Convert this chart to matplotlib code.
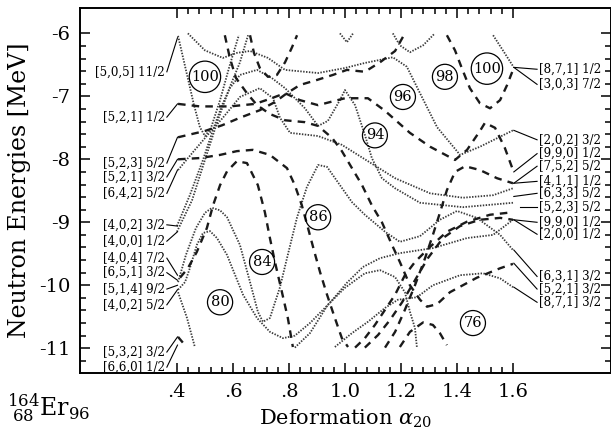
import matplotlib
matplotlib.use('agg')
import matplotlib.pyplot as plt
from matplotlib.ticker import FixedLocator, FixedFormatter

plt.rcParams['font.family'] = 'DejaVu Serif'
plt.rcParams['mathtext.fontset'] = 'dejavuserif'
plt.rcParams['axes.unicode_minus'] = False

# ---- single-particle levels: deformation alpha20 vs energy [MeV] ----
# dotted levels
lv_202_a = [.439, .500, .564, .614, .661, .725, .786, .904, 1.000, 1.071, 1.171, 1.221, 1.268, 1.329, 1.411, 1.482, 1.600]
lv_202_e = [-6.00, -6.27, -6.39, -6.31, -6.28, -6.39, -6.58, -6.63, -6.55, -6.47, -6.38, -6.53, -6.95, -7.49, -7.93, -7.80, -7.54]

lv_505_a = [.404, .432, .461, .482, .500, .521, .554, .589, .621]
lv_505_e = [-6.04, -6.58, -7.14, -7.49, -7.63, -7.51, -7.06, -6.50, -6.03]

lv_400_a = [.400, .454, .500, .546, .589, .625, .654]
lv_400_e = [-9.15, -8.65, -8.01, -7.38, -6.85, -6.46, -6.03]

lv_402a_a = [.400, .446, .493, .529, .561, .589, .625, .686, .739, .786, .857, .904, .939, .982, 1.000, 1.036, 1.071,
             1.096, 1.132, 1.179, 1.268, 1.421, 1.600]
lv_402a_e = [-9.06, -8.57, -8.01, -7.53, -7.14, -6.87, -6.66, -6.58, -6.71, -6.87, -7.19, -7.47, -7.39, -7.06, -6.90,
             -7.14, -7.61, -7.98, -8.30, -8.46, -8.69, -8.76, -8.69]

lv_642_a = [.404, .464, .518, .564, .625, .696, .743, .768, .804, .904, .989, 1.082, 1.179, 1.304, 1.421, 1.529, 1.600]
lv_642_e = [-8.17, -7.85, -7.57, -7.34, -7.01, -6.87, -7.03, -7.34, -7.58, -7.63, -7.77, -8.03, -8.30, -8.54, -8.61,
            -8.57, -8.46]

lv_404_a = [.404, .432, .468, .500, .525, .554, .579, .625, .661, .689, .707, .732, .768, .793, .829, .864, .904, .936,
            .982, 1.025, 1.071, 1.143, 1.196, 1.268, 1.339, 1.400, 1.471, 1.554, 1.600]
lv_404_e = [-9.95, -9.52, -9.09, -8.85, -8.77, -8.81, -8.92, -9.36, -9.95, -10.42, -10.58, -10.52, -10.03, -9.57, -8.92,
            -8.44, -8.09, -8.12, -8.41, -8.68, -8.88, -9.15, -9.31, -9.22, -8.96, -8.82, -8.93, -9.20, -9.44]

lv_651_a = [.404, .429, .446, .471, .493, .518, .543, .579, .636, .686, .732, .779, .821, .875, .946, 1.007, 1.064, 1.125,
            1.196, 1.314, 1.436, 1.529, 1.600]
lv_651_e = [-10.07, -9.95, -9.73, -9.36, -9.17, -9.14, -9.25, -9.52, -10.15, -10.52, -10.74, -10.84, -10.80, -10.60,
            -10.28, -9.96, -9.71, -9.57, -9.49, -9.41, -9.25, -9.20, -8.96]

lv_402b_a = [.404, .436, .464]
lv_402b_e = [-10.11, -10.52, -10.98]

lv_871b_a = [.964, 1.025, 1.082, 1.143, 1.189, 1.257, 1.314, 1.411, 1.493, 1.554, 1.600]
lv_871b_e = [-10.98, -10.76, -10.58, -10.36, -10.23, -10.19, -10.00, -9.84, -9.81, -9.89, -10.03]

lv_hump_a = [.821, .875, .939, 1.000, 1.071, 1.125, 1.179, 1.214, 1.232, 1.250, 1.257]
lv_hump_e = [-10.99, -10.76, -10.31, -10.04, -9.81, -9.76, -9.87, -10.11, -10.42, -10.68, -10.99]

lv_topu_a = [1.171, 1.196, 1.232, 1.279, 1.321]
lv_topu_e = [-6.00, -6.19, -6.30, -6.19, -6.00]

lv_topv_a = [.982, 1.007, 1.029]
lv_topv_e = [-6.00, -6.14, -6.00]

lv_871a_a = [1.529, 1.564, 1.600]
lv_871a_e = [-6.03, -6.27, -6.52]

# dashed levels
lv_521a_a = [.404, .482, .589, .679, .732, .786, .839, .904, 1.000, 1.082, 1.143, 1.232, 1.304, 1.393, 1.436, 1.482,
             1.500, 1.536, 1.571, 1.600]
lv_521a_e = [-7.12, -7.16, -7.16, -7.12, -7.04, -6.95, -7.06, -7.14, -7.03, -7.03, -7.23, -7.58, -7.80, -8.01, -7.85,
             -7.55, -7.42, -7.50, -7.82, -8.17]

lv_523_a = [.404, .500, .561, .625, .696, .750, .793, .839, .900, .957, 1.007, 1.071, 1.125, 1.179, 1.214]
lv_523_e = [-7.65, -7.55, -7.46, -7.34, -7.22, -7.09, -6.95, -6.82, -6.74, -6.66, -6.58, -6.61, -6.46, -6.28, -6.00]

lv_521b_a = [.404, .482, .554, .614, .671, .732, .793, .821, .846, .868, .889, .911, .936, .964, .989, 1.011]
lv_521b_e = [-8.00, -7.98, -7.93, -7.87, -7.85, -7.93, -8.14, -8.41, -8.73, -9.09, -9.44, -9.79, -10.15, -10.52, -10.84,
             -10.98]

lv_514_a = [.411, .439, .471, .507, .529, .554, .579, .614, .650, .689, .714, .732, .750, .775, .796, .814]
lv_514_e = [-9.88, -9.73, -9.47, -9.09, -8.73, -8.41, -8.19, -8.03, -8.06, -8.41, -8.84, -9.25, -9.63, -10.11, -10.52,
            -10.98]

lv_down_a = [.571, .589, .611, .650, .686, .732, .786, .857, .904, .954, .989, 1.025, 1.061, 1.096, 1.132, 1.168, 1.196,
             1.232, 1.268, 1.293, 1.329, 1.375, 1.471, 1.554, 1.600]
lv_down_e = [-6.03, -6.39, -6.71, -6.95, -7.14, -7.28, -7.38, -7.41, -7.47, -7.66, -7.87, -8.14, -8.41, -8.73, -9.00,
             -9.36, -9.63, -10.00, -10.23, -10.34, -10.30, -10.11, -9.88, -9.73, -9.66]

lv_topw_a = [.661, .675, .696, .725, .757, .786, .811, .829]
lv_topw_e = [-6.03, -6.31, -6.55, -6.69, -6.66, -6.46, -6.22, -6.03]

lv_rise1_a = [1.036, 1.071, 1.107, 1.143, 1.179, 1.214, 1.250, 1.304, 1.364, 1.436, 1.518, 1.600]
lv_rise1_e = [-10.99, -10.84, -10.63, -10.39, -10.15, -9.84, -9.63, -9.39, -9.15, -8.99, -8.88, -8.84]

lv_rise2_a = [1.071, 1.118, 1.161, 1.204, 1.250, 1.296, 1.350, 1.411, 1.482, 1.554, 1.600]
lv_rise2_e = [-10.99, -10.79, -10.55, -10.27, -9.92, -9.57, -9.25, -9.06, -8.96, -8.93, -8.96]

lv_411_a = [1.143, 1.179, 1.214, 1.250, 1.286, 1.314, 1.339, 1.364, 1.393, 1.429, 1.482, 1.543, 1.600]
lv_411_e = [-10.99, -10.74, -10.39, -10.00, -9.57, -9.20, -8.85, -8.49, -8.20, -8.11, -8.17, -8.30, -8.38]

lv_bump_a = [1.196, 1.232, 1.279, 1.314, 1.339, 1.364]
lv_bump_e = [-10.98, -10.74, -10.59, -10.63, -10.76, -10.95]

lv_303_a = [1.364, 1.393, 1.418, 1.446, 1.482, 1.518, 1.554, 1.579, 1.600]
lv_303_e = [-6.03, -6.27, -6.56, -6.87, -7.11, -7.19, -7.06, -6.82, -6.58]

lv_532_a = [.404, .421]
lv_532_e = [-10.82, -10.91]

dotted_levels = [(lv_202_a, lv_202_e), (lv_505_a, lv_505_e), (lv_400_a, lv_400_e), (lv_402a_a, lv_402a_e),
                 (lv_642_a, lv_642_e), (lv_404_a, lv_404_e), (lv_651_a, lv_651_e), (lv_402b_a, lv_402b_e),
                 (lv_871b_a, lv_871b_e), (lv_hump_a, lv_hump_e), (lv_topu_a, lv_topu_e), (lv_topv_a, lv_topv_e),
                 (lv_871a_a, lv_871a_e)]
dashed_levels = [(lv_521a_a, lv_521a_e), (lv_523_a, lv_523_e), (lv_521b_a, lv_521b_e), (lv_514_a, lv_514_e),
                 (lv_down_a, lv_down_e), (lv_topw_a, lv_topw_e), (lv_rise1_a, lv_rise1_e), (lv_rise2_a, lv_rise2_e),
                 (lv_411_a, lv_411_e), (lv_bump_a, lv_bump_e), (lv_303_a, lv_303_e), (lv_532_a, lv_532_e)]

# ---- Nilsson labels: text energy and the level end they point to ----
left_labels = ['[5,0,5] 11/2', '[5,2,1] 1/2', '[5,2,3] 5/2', '[5,2,1] 3/2', '[6,4,2] 5/2', '[4,0,2] 3/2',
               '[4,0,0] 1/2', '[4,0,4] 7/2', '[6,5,1] 3/2', '[5,1,4] 9/2', '[4,0,2] 5/2', '[5,3,2] 3/2', '[6,6,0] 1/2']
left_text_e = [-6.61, -7.33, -8.06, -8.28, -8.54, -9.04, -9.30, -9.57, -9.80, -10.06, -10.31, -11.06, -11.30]
left_end_e = [-6.07, -7.12, -7.65, -8.00, -8.17, -9.06, -9.15, -9.84, -9.92, -10.00, -10.07, -10.82, -10.95]

right_labels = ['[8,7,1] 1/2', '[3,0,3] 7/2', '[2,0,2] 3/2', '[9,9,0] 1/2', '[7,5,2] 5/2', '[4,1,1] 1/2',
                '[6,3,3] 5/2', '[5,2,3] 5/2', '[9,9,0] 1/2', '[2,0,0] 1/2', '[6,3,1] 3/2', '[5,2,1] 3/2', '[8,7,1] 3/2']
right_text_e = [-6.57, -6.81, -7.69, -7.91, -8.11, -8.35, -8.54, -8.76, -9.00, -9.19, -9.86, -10.06, -10.27]
right_end_e = [-6.54, -6.54, -7.54, -8.20, -8.38, -8.38, -8.59, -8.76, -8.96, -8.96, -9.44, -9.65, -10.03]

# ---- shell gaps (particle numbers) ----
gap_numbers = ['100', '80', '84', '86', '94', '96', '98', '100', '76']
gap_a = [.500, .554, .704, .904, 1.107, 1.207, 1.357, 1.507, 1.457]
gap_e = [-6.69, -10.27, -9.63, -8.92, -7.62, -7.01, -6.69, -6.56, -10.60]

x_ticks = [.4, .6, .8, 1.0, 1.2, 1.4, 1.6]
x_ticklabels = ['.4', '.6', '.8', '1.0', '1.2', '1.4', '1.6']
y_ticks = [-11, -10, -9, -8, -7, -6]

fig = plt.figure(figsize=(6.11, 4.30), dpi=100)
ax = fig.add_axes([0.131, 0.133, 0.869, 0.848])
ax.set_xlim(0.054, 1.95)
ax.set_ylim(-11.39, -5.60)

for a, e in dotted_levels:
    ax.plot(a, e, color='#3a3a3a', lw=1.3, linestyle=(0, (0.8, 0.8)), solid_capstyle='butt')
for a, e in dashed_levels:
    ax.plot(a, e, color='#1a1a1a', lw=1.7, linestyle=(0, (3.2, 2.6)))

# label connectors and texts
for lab, te, ee in zip(left_labels, left_text_e, left_end_e):
    ax.plot([0.364, 0.402], [te, ee], color='black', lw=0.8)
    ax.text(0.357, te, lab, ha='right', va='center', fontsize=8.6)
for lab, te, ee in zip(right_labels, right_text_e, right_end_e):
    x0 = 1.625 if lab == '[5,2,3] 5/2' else 1.603
    ax.plot([x0, 1.686], [ee, te], color='black', lw=0.8)
    ax.text(1.693, te, lab, ha='left', va='center', fontsize=8.6)

for num, a, e in zip(gap_numbers, gap_a, gap_e):
    pad = 0.12 if len(num) == 3 else 0.22
    ax.text(a, e, num, ha='center', va='center', fontsize=10.5,
            bbox=dict(boxstyle='circle,pad=%.2f' % pad, fc='none', ec='black', lw=0.9))

# axes styling
for s in ax.spines.values():
    s.set_linewidth(1.4)
ax.xaxis.set_major_locator(FixedLocator(x_ticks))
ax.xaxis.set_major_formatter(FixedFormatter(x_ticklabels))
ax.xaxis.set_minor_locator(FixedLocator([0.4 + 0.04 * i for i in range(31)]))
ax.yaxis.set_major_locator(FixedLocator(y_ticks))
ax.yaxis.set_minor_locator(FixedLocator([-11.2 + 0.2 * i for i in range(26)]))
ax.tick_params(which='both', direction='in', top=True, right=True, labelsize=14, width=1.1)
ax.tick_params(which='major', length=7, pad=7)
ax.tick_params(which='minor', length=4)

ax.set_xlabel(r'Deformation $\alpha_{20}$', fontsize=15, labelpad=5)
ax.set_ylabel('Neutron Energies [MeV]', fontsize=17, labelpad=6)
fig.text(0.012, 0.035, r'$^{164}_{\ 68}\mathrm{Er}_{96}$', fontsize=17)

fig.savefig('out.png', dpi=100)
